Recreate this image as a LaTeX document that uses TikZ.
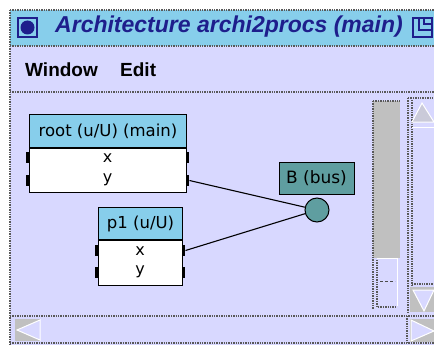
\documentclass[tikz,border=0pt]{standalone}
\usepackage{fontspec}
\setmainfont{DejaVu Sans}
\newfontfamily\guifont{Liberation Sans}
\usetikzlibrary{positioning}

\definecolor{canvas}{RGB}{216,216,255}
\definecolor{headblue}{RGB}{135,206,235}
\definecolor{busteal}{RGB}{95,158,160}
\definecolor{titleink}{RGB}{30,30,140}
\definecolor{trough}{RGB}{192,192,192}

\begin{document}
\begin{tikzpicture}[x=1pt,y=-1pt,
    guiline/.style={densely dotted, line width=1.4pt, black!65},
    head/.style={draw, line width=1pt, fill=headblue, minimum height=33pt,
        inner sep=0pt, anchor=north west, font=\fontsize{16.5}{18}\selectfont},
    body/.style={draw, line width=1pt, fill=white, minimum height=44pt, inner sep=0pt},
    port/.style={fill=black, minimum width=3.5pt, minimum height=11pt, inner sep=0pt},
    portname/.style={inner sep=0pt, font=\fontsize{16}{18}\selectfont},
    wire/.style={line width=1.1pt}]
    \useasboundingbox (0,0) rectangle (434,345);
    \fill[white] (0,0) rectangle (434,345);

    % window title and menu
    \fill[headblue] (10,10) rectangle (434,46);
    \fill[canvas] (10,46) rectangle (434,345);
    \draw[guiline] (10,10) -- (434,10);
    \draw[guiline] (10,46) -- (434,46);
    \draw[guiline] (10,92) -- (434,92);
    \draw[guiline] (10,10) -- (10,345);
    \draw[titleink, line width=1.2pt] (18,18) rectangle (37,37);
    \fill[titleink] (27.5,27.5) circle (7);
    \node[anchor=base west, inner sep=0pt, text=titleink,
        font=\guifont\fontsize{23}{25}\selectfont\bfseries\itshape] (title) at (55,33)
        {Architecture archi2procs (main)};
    \draw[titleink, line width=1.2pt] (413,18) rectangle (432,37);
    \draw[titleink, line width=1.2pt] (419,18) -- (419,30) -- (432,30);
    \draw[titleink, line width=1.2pt] (424,18) -- (424,24) -- (432,24);
    \node[anchor=base west, inner sep=0pt, font=\guifont\fontsize{19}{21}\selectfont\bfseries]
        (menuwin) at (25,77) {Window};
    \node[anchor=base west, inner sep=0pt, font=\guifont\fontsize{19}{21}\selectfont\bfseries]
        (menuedit) at (120,77) {Edit};

    % vertical scrollbars
    \fill[trough] (373,101) rectangle (400,258);
    \draw[guiline] (373,101) -- (400,101);
    \draw[guiline] (373,101) -- (373,309);
    \draw[white, line width=1pt] (377,258) -- (397,258) -- (397,306);
    \draw[guiline] (377,260) -- (377,307) -- (397,307);
    \draw[black!70, densely dashed, line width=1pt] (380,281) -- (395,281);
    \draw[guiline] (408,98) -- (434,98);
    \draw[guiline] (408,98) -- (408,312);
    \draw[guiline] (412,100) -- (412,286);
    \draw[white, line width=1pt, fill=trough!60!canvas] (422,103) -- (434,122) -- (412,122) -- cycle;
    \draw[white, line width=1pt] (412,127) -- (434,127);
    \draw[guiline] (412,284) -- (434,284);
    \fill[trough] (410,287) rectangle (434,312);
    \draw[white, line width=1pt, fill=canvas] (413,290) -- (434,290) -- (424,311) -- cycle;

    % horizontal scrollbar
    \draw[guiline] (10,316) -- (434,316);
    \draw[guiline] (10,343) -- (434,343);
    \fill[trough] (15,319) rectangle (40,341);
    \draw[white, line width=1pt, fill=canvas] (17,330) -- (40,320) -- (40,340) -- cycle;
    \draw[guiline] (407,316) -- (407,343);
    \fill[trough] (410,319) rectangle (434,342);
    \draw[white, line width=1pt, fill=canvas] (434,331) -- (411,320) -- (411,341) -- cycle;

    % process root
    \node[head, minimum width=157pt] (roothead) at (29,114) {root (u/U) (main)};
    \node[body, minimum width=157pt, below=0pt of roothead] (rootbody) {};
    \node[portname] (rootx) at (107.5,158) {x};
    \node[portname] (rooty) at (107.5,180) {y};
    \node[port] (rootxl) at (27.5,157.5) {};
    \node[port] (rootyl) at (27.5,180.5) {};
    \node[port] (rootxr) at (187.5,157.5) {};
    \node[port] (rootyr) at (187.5,180.5) {};

    % process p1
    \node[head, minimum width=84pt, minimum height=32pt] (p1head) at (98,207) {p1 (u/U)};
    \node[body, minimum width=84pt, minimum height=45pt, below=0pt of p1head] (p1body) {};
    \node[portname] (p1x) at (140,251) {x};
    \node[portname] (p1y) at (140,272) {y};
    \node[port] (p1xl) at (96.5,250.5) {};
    \node[port] (p1yl) at (96.5,272.5) {};
    \node[port] (p1xr) at (183.5,250.5) {};
    \node[port] (p1yr) at (183.5,272.5) {};

    % bus
    \node[draw, line width=1pt, fill=busteal, minimum width=75pt, minimum height=32pt,
        inner sep=0pt, font=\fontsize{17}{19}\selectfont] (buslabel) at (316.5,178) {B (bus)};
    \node[draw, line width=1pt, fill=busteal, circle, minimum size=24pt, inner sep=0pt]
        (bus) at (317,210) {};

    \draw[wire] (rootyr.east) -- (bus);
    \draw[wire] (p1xr.east) -- (bus);
\end{tikzpicture}
\end{document}
